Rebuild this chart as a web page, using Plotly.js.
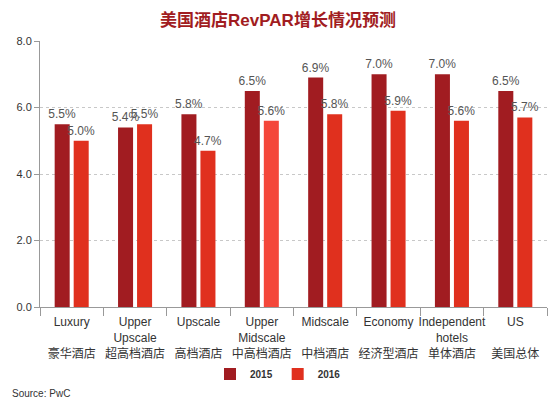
<!DOCTYPE html>
<html>
<head>
<meta charset="utf-8">
<script src="https://cdn.plot.ly/plotly-3.0.1.min.js"></script>
<style>html,body{margin:0;padding:0;background:#fff}#chart{width:556px;height:400px}</style>
</head>
<body>
<div id="chart"></div>
<script>
const categories = [
  "Luxury<br> <br>豪华酒店",
  "Upper<br>Upscale<br>超高档酒店",
  "Upscale<br> <br>高档酒店",
  "Upper<br>Midscale<br>中高档酒店",
  "Midscale<br> <br>中档酒店",
  "Economy<br> <br>经济型酒店",
  "Independent<br>hotels<br>单体酒店",
  "US<br> <br>美国总体"
];
const values2015 = [5.5, 5.4, 5.8, 6.5, 6.9, 7.0, 7.0, 6.5];
const values2016 = [5.0, 5.5, 4.7, 5.6, 5.8, 5.9, 5.6, 5.7];
const seriesNames = ["2015", "2016"];
const yTicks = [0, 2, 4, 6, 8];

const c2015 = "#a11c21";
const c2016 = "#e0301e";
const c2016hi = "#f4473a";
const colors2016 = values2016.map((v, i) => i === 3 ? c2016hi : c2016);
const fontFam = "Arial, 'Liberation Sans', 'Noto Sans CJK SC', sans-serif";

const traces = [
  {
    type: "bar", name: seriesNames[0], x: categories, y: values2015,
    marker: {color: c2015},
    text: values2015.map(v => v.toFixed(1) + "%"),
    textposition: "outside", cliponaxis: false, constraintext: "none",
    textfont: {size: 12, color: "#555", family: fontFam},
    hoverinfo: "none"
  },
  {
    type: "bar", name: seriesNames[1], x: categories, y: values2016,
    marker: {color: colors2016},
    text: values2016.map(v => v.toFixed(1) + "%"),
    textposition: "outside", cliponaxis: false, constraintext: "none",
    textfont: {size: 12, color: "#555", family: fontFam},
    hoverinfo: "none"
  }
];

const layout = {
  width: 556, height: 400,
  margin: {l: 40, r: 9, t: 41, b: 93},
  paper_bgcolor: "#fff", plot_bgcolor: "#fff",
  font: {family: fontFam, color: "#333", size: 11},
  title: {
    text: "<b>美国酒店RevPAR增长情况预测</b>",
    font: {size: 17, color: "#a11c21", family: fontFam},
    x: 0.5, xanchor: "center", y: 0.95, yanchor: "middle", yref: "container"
  },
  barmode: "group", bargap: 0.4, bargroupgap: 0.21,
  showlegend: true,
  legend: {
    orientation: "h", x: 0.5, xanchor: "center", xref: "container",
    y: 0.065, yanchor: "middle", yref: "container",
    font: {size: 10, color: "#333", family: fontFam, weight: "bold"},
    itemwidth: 30, tracegroupgap: 0
  },
  xaxis: {
    type: "category",
    showline: true, linecolor: "#999", linewidth: 1,
    ticks: "outside", tickson: "boundaries", ticklen: 8, tickcolor: "#999",
    showgrid: false, tickangle: 0, ticklabelstandoff: 4,
    tickfont: {size: 12, color: "#333", family: fontFam},
    automargin: false, fixedrange: true
  },
  yaxis: {
    range: [0, 8], tickvals: yTicks, tickformat: ".1f",
    showline: true, linecolor: "#999", linewidth: 1,
    ticks: "outside", ticklen: 5, tickcolor: "#999",
    showgrid: true, gridcolor: "#c8c8c8", griddash: "dot", gridwidth: 1,
    zeroline: false,
    tickfont: {size: 11, color: "#333", family: fontFam},
    automargin: false, fixedrange: true
  },
  annotations: [
    {
      text: "Source: PwC", xref: "paper", yref: "paper",
      x: -0.059, y: -0.325, xanchor: "left", yanchor: "middle",
      showarrow: false, font: {size: 10, color: "#333", family: fontFam}
    }
  ]
};

Plotly.newPlot("chart", traces, layout, {displayModeBar: false, staticPlot: true});
</script>
</body>
</html>
